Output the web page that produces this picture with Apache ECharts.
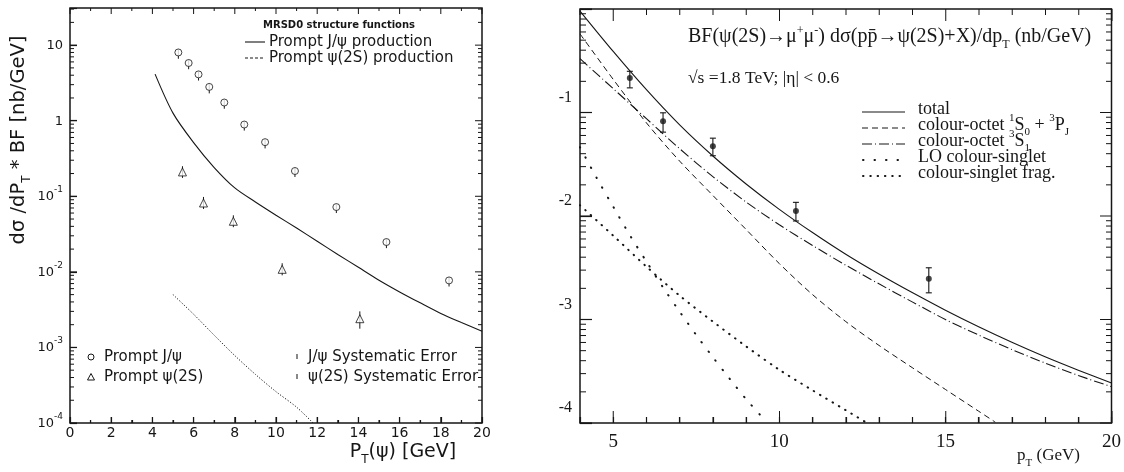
<!DOCTYPE html>
<html>
<head>
<meta charset="utf-8">
<script src="https://cdn.jsdelivr.net/npm/echarts@6/dist/echarts.min.js"></script>
<style>
  html, body { margin: 0; padding: 0; background: #fff; }
  #chart { width: 1124px; height: 472px; }
</style>
</head>
<body>
<div id="chart"></div>
<script>
// ---- Left panel: prompt J/psi and psi(2S) cross sections (MRSD0) ----
const jpsiPt = [5.26, 5.76, 6.24, 6.76, 7.49, 8.46, 9.47, 10.92, 12.93, 15.36, 18.4];
const jpsiXs = [8.0, 5.8, 4.1, 2.8, 1.74, 0.89, 0.52, 0.216, 0.072, 0.0248, 0.0077];
const jpsiLo = [6.6, 4.8, 3.4, 2.3, 1.44, 0.74, 0.43, 0.18, 0.060, 0.0206, 0.0064];
const jpsiHi = [8.8, 6.4, 4.5, 3.1, 1.91, 0.98, 0.57, 0.238, 0.079, 0.0273, 0.0085];

const psi2sPt = [5.46, 6.48, 7.93, 10.3, 14.07];
const psi2sXs = [0.21, 0.0815, 0.0467, 0.0108, 0.0024];
const psi2sLo = [0.175, 0.068, 0.039, 0.009, 0.00177];
const psi2sHi = [0.25, 0.098, 0.056, 0.013, 0.003];

const jpsiTheoryPt = [4.13, 5, 6, 7, 8, 9, 10, 11, 12, 13, 14, 15, 16, 17, 18, 19, 20];
const jpsiTheoryXs = [4.13, 1.26, 0.513, 0.240, 0.129, 0.0841, 0.0562, 0.038, 0.0254, 0.0170, 0.01148,
                      0.00776, 0.00543, 0.00389, 0.00282, 0.00214, 0.00164];

const psi2sTheoryPt = [5, 6, 7, 8, 9, 10, 11, 11.8];
const psi2sTheoryXs = [0.0050, 0.00275, 0.00145, 0.00078, 0.00044, 0.00026, 0.000162, 0.0001];

// ---- Right panel: BF * dsigma/dpT for psi(2S), sqrt(s) = 1.8 TeV ----
const cdfPt = [5.5, 6.5, 8, 10.5, 14.5];
const cdfXs = [0.216, 0.0824, 0.0473, 0.01117, 0.00247];
const cdfLo = [0.173, 0.0646, 0.0382, 0.00895, 0.00181];
const cdfHi = [0.25, 0.0993, 0.0565, 0.01355, 0.00316];

const curvePt = [4, 5, 6, 7, 8, 9, 10, 11, 12, 13, 14, 15, 16, 17, 18, 19, 20];
const totalXs = [0.955, 0.389, 0.166, 0.0759, 0.038, 0.0204, 0.0116, 0.00692, 0.00427, 0.00275,
                 0.00182, 0.00123, 0.000851, 0.000603, 0.000437, 0.000324, 0.000243];
const octet3S1Xs = [0.331, 0.170, 0.0871, 0.0447, 0.024, 0.01365, 0.00822, 0.00519, 0.00335, 0.00221,
                    0.00148, 0.001, 0.000708, 0.000513, 0.00038, 0.000288, 0.000224];
const octetS0PJPt = [4, 5, 6, 7, 8, 9, 10, 11, 12, 13, 14, 15, 16, 16.5];
const octetS0PJXs = [0.575, 0.209, 0.0794, 0.0339, 0.0158, 0.00741, 0.00347, 0.00174, 0.000955,
                     0.000562, 0.000343, 0.000211, 0.00013, 0.000102];
const loSingletPt = [4, 4.5, 5, 5.5, 6, 6.5, 7, 7.5, 8, 8.5, 9, 9.56];
const loSingletXs = [0.0462, 0.0234, 0.0123, 0.00653, 0.00363, 0.00204, 0.00119, 0.000708,
                     0.000432, 0.000269, 0.00017, 0.000107];
const fragPt = [4, 5, 6, 7, 8, 9, 10, 11, 12, 12.6];
const fragXs = [0.0127, 0.00646, 0.00324, 0.0017, 0.000955, 0.00055, 0.000327, 0.000207, 0.000133, 0.000102];

// ---- axis ranges and tick positions ----
const leftX = [0, 20], leftY = [1e-4, 31];
const rightX = [4, 20], rightY = [1e-4, 1];
const leftXMajor = [0, 2, 4, 6, 8, 10, 12, 14, 16, 18, 20];
const leftXMinor = [1, 3, 5, 7, 9, 11, 13, 15, 17, 19];
const rightXMajor = [5, 10, 15, 20];
const rightXMinor = [4, 6, 7, 8, 9, 11, 12, 13, 14, 16, 17, 18, 19];

function decadeTicks(lo, hi) {
  const major = [], minor = [];
  for (let e = Math.round(Math.log10(lo)); e <= Math.ceil(Math.log10(hi)); e++) {
    const base = Math.pow(10, e);
    if (base >= lo * 0.999 && base <= hi * 1.001) major.push(base);
    for (let m = 2; m <= 9; m++) {
      const v = m * base;
      if (v > lo && v < hi) minor.push(v);
    }
  }
  return { major, minor };
}
const leftYTicks = decadeTicks(leftY[0], leftY[1]);
const rightYTicks = decadeTicks(rightY[0], rightY[1]);

const SANS = "'DejaVu Sans', 'Liberation Sans', sans-serif";
const SERIF = "'Liberation Serif', 'DejaVu Serif', serif";
const INK = '#161616';

// plot frames
const frameL = { left: 70, top: 8, width: 412, height: 415 };
const frameR = { left: 580, top: 9, width: 532, height: 414 };

const pairs = (xs, ys) => xs.map((x, i) => [x, ys[i]]);
const errRows = (xs, ys, lo, hi) => xs.map((x, i) => [x, ys[i], lo[i], hi[i]]);

function errorSeries(idx, rows, cap, width) {
  return {
    type: 'custom', xAxisIndex: idx, yAxisIndex: idx, z: 3, silent: true,
    data: rows,
    renderItem(params, api) {
      const x = api.value(0);
      const a = api.coord([x, api.value(2)]);
      const b = api.coord([x, api.value(3)]);
      const kids = [{ type: 'line', shape: { x1: a[0], y1: a[1], x2: b[0], y2: b[1] }, style: { stroke: INK, lineWidth: width } }];
      if (cap > 0) {
        kids.push({ type: 'line', shape: { x1: a[0] - cap, y1: a[1], x2: a[0] + cap, y2: a[1] }, style: { stroke: INK, lineWidth: width } });
        kids.push({ type: 'line', shape: { x1: b[0] - cap, y1: b[1], x2: b[0] + cap, y2: b[1] }, style: { stroke: INK, lineWidth: width } });
      }
      return { type: 'group', children: kids };
    }
  };
}

function curve(idx, xs, ys, dash, width, cap) {
  return {
    type: 'line', xAxisIndex: idx, yAxisIndex: idx, data: pairs(xs, ys),
    showSymbol: false, symbol: 'none', smooth: 0.3, silent: true, z: 2,
    lineStyle: { color: INK, width, type: dash || 'solid', cap: cap || 'butt' }
  };
}

const decadeExp = v => {
  const l = Math.log10(v), e = Math.round(l);
  return Math.abs(l - e) < 0.01 ? e : null;
};

// rich text styles
const sansRich = (size) => ({
  n: { fontFamily: SANS, fontSize: size, color: INK, lineHeight: size + 2, padding: [0, 0, 4, 0], verticalAlign: 'bottom' },
  sb: { fontFamily: SANS, fontSize: Math.round(size * 0.62), color: INK, lineHeight: Math.round(size * 0.62), verticalAlign: 'bottom' }
});
const serifRich = (size) => ({
  n: { fontFamily: SERIF, fontSize: size, color: INK, lineHeight: size + 2, padding: [0, 0, 4, 0], verticalAlign: 'bottom' },
  sp: { fontFamily: SERIF, fontSize: Math.round(size * 0.62), color: INK, lineHeight: Math.round(size * 0.62), padding: [0, 0, 14, 0], verticalAlign: 'bottom' },
  sb: { fontFamily: SERIF, fontSize: Math.round(size * 0.62), color: INK, lineHeight: Math.round(size * 0.62), verticalAlign: 'bottom' }
});

const txt = (x, y, text, extra) => ({
  type: 'text', x, y, silent: true, z: 10,
  style: Object.assign({ text, fill: INK, align: 'left', verticalAlign: 'middle' }, extra)
});
const seg = (x1, y1, x2, y2, dash, width, cap) => ({
  type: 'line', silent: true, z: 10,
  shape: { x1, y1, x2, y2 },
  style: { stroke: INK, lineWidth: width || 1, lineDash: dash || null, lineCap: cap || 'butt' }
});

// inward tick marks on all four sides of a frame (linear x, logarithmic y)
function frameTicks(f, xr, yr, xMaj, xMin, yMaj, yMin, lens) {
  const out = [];
  const lx0 = Math.log10(yr[0]), lx1 = Math.log10(yr[1]);
  const px = v => f.left + (v - xr[0]) / (xr[1] - xr[0]) * f.width;
  const py = v => f.top + f.height * (1 - (Math.log10(v) - lx0) / (lx1 - lx0));
  const bottom = f.top + f.height, top = f.top, left = f.left, right = f.left + f.width;
  const xTick = (v, len) => {
    const x = px(v);
    out.push(seg(x, bottom, x, bottom - len, null, 1.01));
    out.push(seg(x, top, x, top + len, null, 1.01));
  };
  const yTick = (v, len) => {
    const y = py(v);
    out.push(seg(left, y, left + len, y, null, 1.01));
    out.push(seg(right, y, right - len, y, null, 1.01));
  };
  xMaj.forEach(v => xTick(v, lens[0]));
  xMin.forEach(v => xTick(v, lens[1]));
  yMaj.forEach(v => yTick(v, lens[2]));
  yMin.forEach(v => yTick(v, lens[3]));
  return out;
}

const ticks = [].concat(
  frameTicks(frameL, leftX, leftY, leftXMajor, leftXMinor, leftYTicks.major, leftYTicks.minor, [6, 3, 7, 4]),
  frameTicks(frameR, rightX, rightY, rightXMajor, rightXMinor, rightYTicks.major, rightYTicks.minor, [12, 6, 12, 6])
);

const labels = [
  // left panel key
  txt(263, 25, 'MRSD0 structure functions', { font: 'bold 10px ' + SANS }),
  seg(245, 42, 265, 42, null, 1.1),
  txt(269, 42, 'Prompt J/ψ production', { font: '15px ' + SANS }),
  seg(245, 58, 265, 58, [3, 2], 1),
  txt(269, 58, 'Prompt ψ(2S) production', { font: '15px ' + SANS }),
  { type: 'circle', silent: true, z: 10, shape: { cx: 91, cy: 357, r: 3 }, style: { fill: '#fff', stroke: INK, lineWidth: 1 } },
  txt(104, 357, 'Prompt J/ψ', { font: '15px ' + SANS }),
  { type: 'polygon', silent: true, z: 10, shape: { points: [[91, 373.5], [94.5, 380], [87.5, 380]] }, style: { fill: '#fff', stroke: INK, lineWidth: 1 } },
  txt(104, 377, 'Prompt ψ(2S)', { font: '15px ' + SANS }),
  { type: 'rect', silent: true, z: 10, shape: { x: 296, y: 354, width: 2, height: 5 }, style: { fill: '#888' } },
  txt(308, 357, 'J/ψ Systematic Error', { font: '15px ' + SANS }),
  { type: 'rect', silent: true, z: 10, shape: { x: 296, y: 374, width: 2, height: 5 }, style: { fill: '#888' } },
  txt(308, 377, 'ψ(2S) Systematic Error', { font: '15px ' + SANS }),
  // left axis titles
  Object.assign(txt(22, 140, '{n|dσ /dP}{sb|T}{n| * BF [nb/GeV]}', { align: 'center', rich: sansRich(19.5) }), { rotation: Math.PI / 2 }),
  txt(403, 455, '{n|P}{sb|T}{n|(ψ) [GeV]}', { align: 'center', rich: sansRich(19) }),
  // right panel labels
  txt(688, 40, '{n|BF(ψ(2S)→μ}{sp|+}{n|μ}{sp|-}{n|) dσ(pp̄→ψ(2S)+X)/dp}{sb|T}{n| (nb/GeV)}', { rich: serifRich(20) }),
  txt(688, 78, '√s =1.8 TeV; |η| < 0.6', { font: '17.5px ' + SERIF }),
  seg(862, 112, 905, 112, null, 1.1),
  txt(918, 112, '{n|total}', { rich: serifRich(18) }),
  seg(862, 128, 905, 128, [6, 4], 1),
  txt(918, 128, '{n|colour-octet }{sp|1}{n|S}{sb|0}{n| + }{sp|3}{n|P}{sb|J}', { rich: serifRich(18) }),
  seg(862, 144, 905, 144, [10, 3, 1, 3], 1.1),
  txt(918, 144, '{n|colour-octet }{sp|3}{n|S}{sb|1}', { rich: serifRich(18) }),
  seg(863, 160, 905, 160, [0.5, 11], 2, 'round'),
  txt(918, 160, '{n|LO colour-singlet}', { rich: serifRich(18) }),
  seg(863, 176, 905, 176, [0.5, 6.8], 2, 'round'),
  txt(918, 176, '{n|colour-singlet frag.}', { rich: serifRich(18) }),
  txt(1017, 459, '{n|p}{sb|T}{n| (GeV)}', { rich: serifRich(17) })
];

const tickStyle = { color: INK, width: 1.2 };

const option = {
  backgroundColor: '#fff',
  animation: false,
  grid: [
    Object.assign({ show: true, borderColor: INK, borderWidth: 1.5, backgroundColor: 'transparent' }, frameL),
    Object.assign({ show: true, borderColor: INK, borderWidth: 1.5, backgroundColor: 'transparent' }, frameR)
  ],
  xAxis: [
    {
      gridIndex: 0, type: 'value', min: leftX[0], max: leftX[1], interval: 2,
      axisLine: { show: false }, splitLine: { show: false },
      axisTick: { show: true, inside: true, length: 6, lineStyle: tickStyle },
      minorTick: { show: true, splitNumber: 2, length: 3, lineStyle: tickStyle },
      axisLabel: { color: INK, fontFamily: SANS, fontSize: 14, margin: 3 }
    },
    {
      gridIndex: 1, type: 'value', min: rightX[0], max: rightX[1], interval: 1,
      axisLine: { show: false }, splitLine: { show: false },
      axisTick: { show: true, inside: true, length: 6, lineStyle: tickStyle },
      axisLabel: {
        color: INK, fontFamily: SERIF, fontSize: 19, margin: 10,
        formatter: v => (v % 5 === 0 ? String(v) : '')
      }
    }
  ],
  yAxis: [
    {
      gridIndex: 0, type: 'log', min: leftY[0], max: leftY[1],
      axisLine: { show: false }, splitLine: { show: false },
      axisTick: { show: true, inside: true, length: 7, lineStyle: tickStyle },
      axisLabel: {
        margin: 7, color: INK,
        formatter: v => {
          const e = decadeExp(v);
          if (e === null || v > 11) return '';
          if (e === 0) return '{b|1}';
          if (e === 1) return '{b|10}';
          return '{b|10}{s|' + e + '}';
        },
        rich: {
          b: { fontFamily: SANS, fontSize: 13, color: INK, lineHeight: 14, verticalAlign: 'bottom' },
          s: { fontFamily: SANS, fontSize: 9, color: INK, lineHeight: 9, padding: [0, 0, 9, 0], verticalAlign: 'bottom' }
        }
      }
    },
    {
      gridIndex: 1, type: 'log', min: rightY[0], max: rightY[1],
      axisLine: { show: false }, splitLine: { show: false },
      axisTick: { show: true, inside: true, length: 12, lineStyle: tickStyle },
      axisLabel: {
        margin: 8, verticalAlign: 'bottom',
        formatter: v => {
          const e = decadeExp(v);
          return e === null || e >= 0 ? '' : '{a|' + e + '}';
        },
        rich: { a: { fontFamily: SERIF, fontSize: 16, color: INK, lineHeight: 30 } }
      }
    }
  ],
  graphic: ticks.concat(labels),
  series: [
    // left panel
    curve(0, jpsiTheoryPt, jpsiTheoryXs, 'solid', 1.1),
    curve(0, psi2sTheoryPt, psi2sTheoryXs, [1.2, 1.8], 1),
    errorSeries(0, errRows(jpsiPt, jpsiXs, jpsiLo, jpsiHi), 0, 1),
    errorSeries(0, errRows(psi2sPt, psi2sXs, psi2sLo, psi2sHi), 0, 1),
    {
      type: 'scatter', xAxisIndex: 0, yAxisIndex: 0, z: 4, silent: true,
      data: pairs(jpsiPt, jpsiXs), symbol: 'circle', symbolSize: 7,
      itemStyle: { color: '#fff', borderColor: INK, borderWidth: 1 }
    },
    {
      type: 'scatter', xAxisIndex: 0, yAxisIndex: 0, z: 4, silent: true,
      data: pairs(psi2sPt, psi2sXs), symbol: 'triangle', symbolSize: 8,
      itemStyle: { color: '#fff', borderColor: INK, borderWidth: 1 }
    },
    // right panel
    curve(1, curvePt, totalXs, 'solid', 1.1),
    curve(1, octetS0PJPt, octetS0PJXs, [6, 4], 1),
    curve(1, curvePt, octet3S1Xs, [10, 3, 1, 3], 1.1),
    curve(1, loSingletPt, loSingletXs, [0.5, 11], 2, 'round'),
    curve(1, fragPt, fragXs, [0.5, 6.8], 2, 'round'),
    errorSeries(1, errRows(cdfPt, cdfXs, cdfLo, cdfHi), 3, 1.1),
    {
      type: 'scatter', xAxisIndex: 1, yAxisIndex: 1, z: 4, silent: true,
      data: pairs(cdfPt, cdfXs), symbol: 'circle', symbolSize: 6,
      itemStyle: { color: INK }
    }
  ]
};

const chart = echarts.init(document.getElementById('chart'), null, { renderer: 'canvas' });
chart.setOption(option);
</script>
</body>
</html>
